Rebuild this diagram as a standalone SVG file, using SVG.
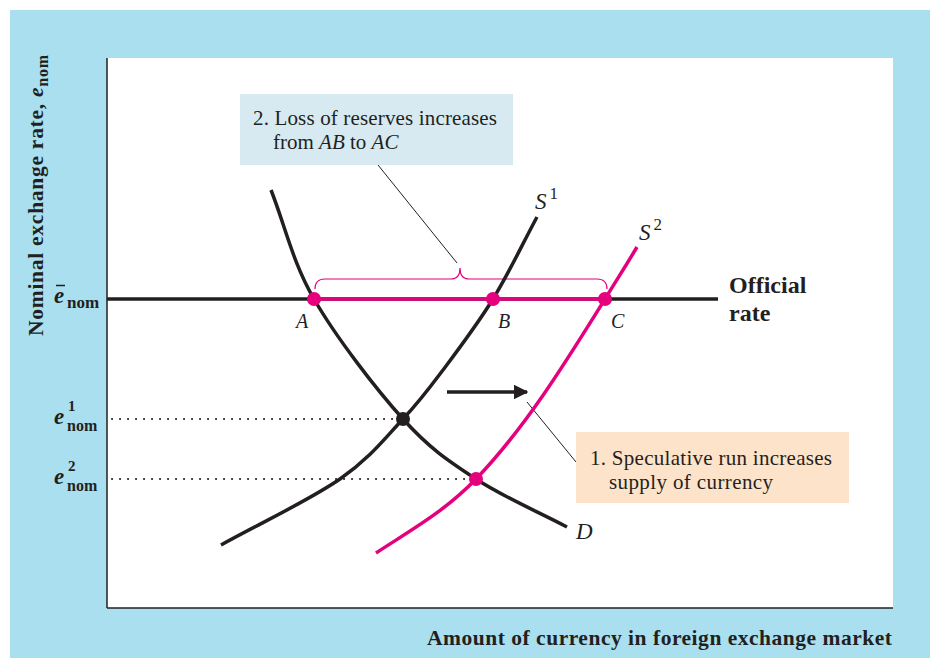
<svg xmlns="http://www.w3.org/2000/svg" width="930" height="658" viewBox="0 0 930 658">
<style>
.t{font-family:"Liberation Serif","Times New Roman",serif;fill:#231f20}
.b{font-weight:bold}
.i{font-style:italic}
.crv{fill:none;stroke-width:3.5;stroke-linecap:butt}
.blk{stroke:#231f20}
.pnk{stroke:#e5007d}
.dot{stroke:#231f20;stroke-width:2;stroke-dasharray:0.1 7.9;stroke-linecap:round;fill:none}
</style>
<defs>
<marker id="ah" viewBox="0 0 10 10" refX="9" refY="5" markerWidth="4.2" markerHeight="4.2" orient="auto" markerUnits="strokeWidth">
<path d="M0,0 L10,5 L0,10 Z" fill="#231f20"/>
</marker>
</defs>
<rect x="10" y="10" width="920" height="648" fill="#a9dfee"/>
<rect x="107" y="58" width="786" height="550" fill="#ffffff"/>
<g id="axes">
<line x1="107" y1="58" x2="107" y2="608" stroke="#231f20" stroke-width="1.5"/>
<line x1="107" y1="608" x2="893" y2="608" stroke="#231f20" stroke-width="1.5"/>
</g>
<g id="axis-labels">
<text class="t b" font-size="21.5" transform="translate(43,336) rotate(-90)" textLength="281" lengthAdjust="spacing">Nominal exchange rate, <tspan class="i">e</tspan><tspan font-size="16" dy="5">nom</tspan></text>
<text class="t b" font-size="21.5" x="427" y="645" textLength="465" lengthAdjust="spacing">Amount of currency in foreign exchange market</text>
</g>
<g id="y-ticks">
<text class="t b" x="54" y="303"><tspan class="i" font-size="23">e</tspan><tspan font-size="17" x="67" y="308">nom</tspan></text>
<line x1="56" y1="285.5" x2="65" y2="285.5" stroke="#231f20" stroke-width="1.5"/>
<text class="t b" font-size="23" x="54" y="424"><tspan class="i">e</tspan></text>
<text class="t b" font-size="15" x="68" y="411">1</text>
<text class="t b" font-size="16" x="67" y="431">nom</text>
<text class="t b" font-size="23" x="54" y="484"><tspan class="i">e</tspan></text>
<text class="t b" font-size="15" x="68" y="471">2</text>
<text class="t b" font-size="16" x="67" y="491">nom</text>
</g>
<g id="connectors">
<line x1="107" y1="299" x2="718" y2="299" stroke="#231f20" stroke-width="3.5"/>
<line x1="314" y1="299" x2="605" y2="299" stroke="#e5007d" stroke-width="3.5"/>
<line class="dot" x1="112" y1="419" x2="400" y2="419"/>
<line class="dot" x1="112" y1="479" x2="472" y2="479"/>
<path d="M315,289 Q315,279 325,279 L451,279 Q460,279 460,268 Q460,279 469,279 L597,279 Q607,279 607,289" fill="none" stroke="#e5007d" stroke-width="1.2"/>
<line x1="378" y1="165" x2="457" y2="263" stroke="#231f20" stroke-width="1"/>
<line x1="527" y1="402" x2="576" y2="462" stroke="#231f20" stroke-width="1"/>
<line x1="447" y1="392" x2="527" y2="392" stroke="#231f20" stroke-width="3.5" marker-end="url(#ah)"/>
</g>
<g id="curve-D">
<path class="crv blk" d="M271,190 C285.3,226.3 292,260.8 314,299 C336,337.2 376,389 403,419 C430,449 448.7,461 476,479 C503.3,497 536.7,511 567,527"/>
<text class="t i" font-size="23" x="576" y="539">D</text>
</g>
<g id="curve-S1">
<path class="crv blk" d="M221,545 C260.7,523 309.7,500 340,479 C370.3,458 385.8,437.2 403,419 C420.2,400.8 428,390 443,370 C458,350 477.3,324.5 493,299 C508.7,273.5 522.3,244.3 537,217"/>
<text class="t i" font-size="23" x="535" y="209">S<tspan font-style="normal" font-size="17" dx="3" dy="-10">1</tspan></text>
</g>
<g id="curve-S2">
<path class="crv pnk" d="M376,553 C411,530 444,512 476,479 C526,427 567,360 605,299 C616,281 627,264 637,247"/>
<text class="t i" font-size="23" x="639" y="240">S<tspan font-style="normal" font-size="17" dx="3" dy="-10">2</tspan></text>
</g>
<g id="point-A">
<circle cx="314" cy="299" r="7" fill="#e5007d"/>
<text class="t i" font-size="20" x="296" y="328">A</text>
</g>
<g id="point-B">
<circle cx="493" cy="299" r="7" fill="#e5007d"/>
<text class="t i" font-size="20" x="498" y="328">B</text>
</g>
<g id="point-C">
<circle cx="605" cy="299" r="7" fill="#e5007d"/>
<text class="t i" font-size="20" x="611" y="328">C</text>
</g>
<g id="point-E1">
<circle cx="403" cy="419" r="7" fill="#231f20"/>
</g>
<g id="point-E2">
<circle cx="476" cy="479" r="7" fill="#e5007d"/>
</g>
<g id="official-rate">
<text class="t b" font-size="24" x="729" y="293">Official</text>
<text class="t b" font-size="24" x="729" y="321">rate</text>
</g>
<g id="note-2">
<rect x="240" y="94" width="273" height="71" fill="#d7eaf2"/>
<text class="t" font-size="21" x="253" y="125" textLength="244" lengthAdjust="spacing">2. Loss of reserves increases</text>
<text class="t" font-size="21" x="273" y="149">from <tspan class="i">AB</tspan> to <tspan class="i">AC</tspan></text>
</g>
<g id="note-1">
<rect x="576" y="432" width="273" height="71" fill="#fde3c9"/>
<text class="t" font-size="21" x="590" y="465" textLength="242" lengthAdjust="spacing">1. Speculative run increases</text>
<text class="t" font-size="21" x="609" y="489" textLength="164" lengthAdjust="spacing">supply of currency</text>
</g>
</svg>
